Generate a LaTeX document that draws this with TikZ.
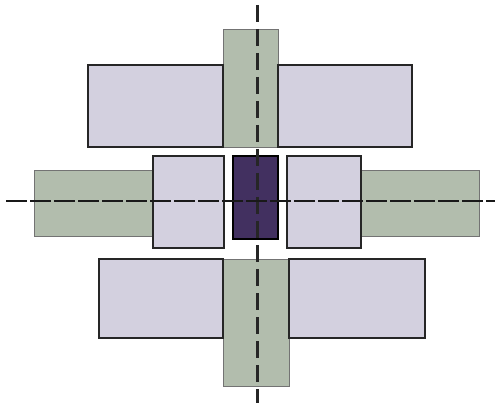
\documentclass[tikz,border=0pt]{standalone}
\usepackage{tikz}
\usetikzlibrary{positioning}
\definecolor{lavender}{RGB}{211,208,223}
\definecolor{sage}{RGB}{178,189,173}
\definecolor{deeppurple}{RGB}{66,48,96}
\tikzstyle{shaft} = [rectangle, inner sep=0pt, draw=black!55, line width=0.8pt, fill=sage]
\tikzstyle{pad} = [rectangle, inner sep=0pt, draw=black!85, line width=1.1pt, fill=lavender]
\tikzstyle{core} = [rectangle, inner sep=0pt, draw=black, line width=2pt, fill=deeppurple]
\tikzstyle{axisv} = [line width=3pt, black!85, dash pattern=on 17pt off 7pt]
\tikzstyle{axish} = [line width=2.2pt, black!90, dash pattern=on 21pt off 3pt]

\begin{document}
\begin{tikzpicture}[x=1pt,y=-1pt]
\useasboundingbox (0,0) rectangle (495,403);
% shafts
\node (shaftTop) [shaft, minimum width=55pt, minimum height=118pt] at (250.5,88) {};
\node (shaftBot) [shaft, minimum width=66pt, minimum height=127pt] at (256,322.5) {};
\node (shaftL) [shaft, minimum width=119pt, minimum height=66pt] at (93.5,203) {};
\node (shaftR) [shaft, minimum width=118pt, minimum height=66pt] at (420,203) {};
% pads
\node (padTL) [pad, minimum width=135pt, minimum height=82pt] at (155.5,106) {};
\node (padTR) [pad, minimum width=134pt, minimum height=82pt] at (345,106) {};
\node (blockL) [pad, minimum width=71pt, minimum height=92pt] at (188.5,202) {};
\node (blockR) [pad, minimum width=74pt, minimum height=92pt] at (324,202) {};
\node (padBL) [pad, minimum width=124pt, minimum height=79pt] at (161,298.5) {};
\node (padBR) [pad, minimum width=136pt, minimum height=79pt] at (357,298.5) {};
% centre
\node (core) [core, minimum width=45pt, minimum height=83pt] at (255.5,197.5) {};
% axes
\coordinate (vtop) at (257,5);
\coordinate (vbot) at (257,403);
\coordinate (hleft) at (6,201);
\coordinate (hright) at (495,201);
\draw[axisv] (vtop) -- (vbot);
\draw[axish] (hleft) -- (hright);
\end{tikzpicture}
\end{document}
